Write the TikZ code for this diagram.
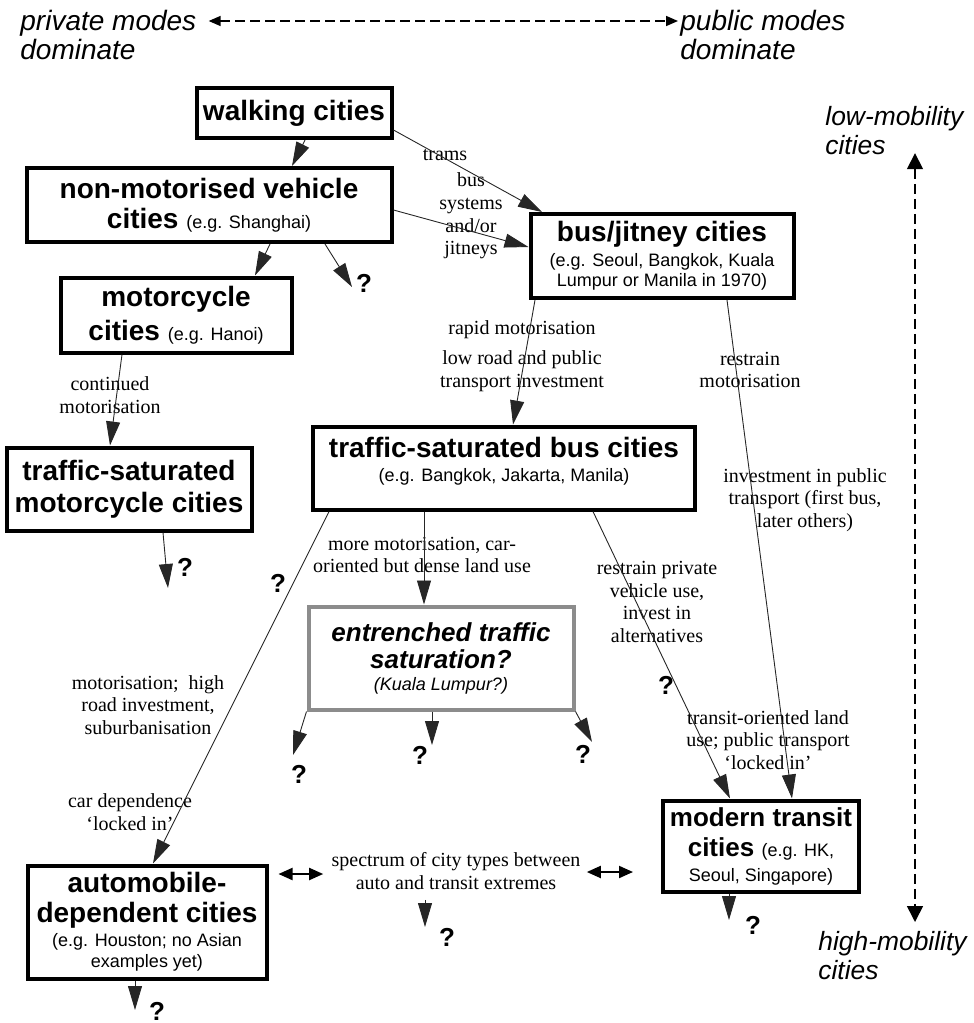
\documentclass[tikz,border=0pt]{standalone}
\usepackage{fontspec}
\setmainfont{Liberation Serif}
\setsansfont{Liberation Sans}
\usepackage{tikz}
\usetikzlibrary{calc}
\usetikzlibrary{arrows.meta}
\newcommand{\eg}[1]{{\mdseries\fontsize{9}{10}\selectfont #1}}
\tikzset{
    citybox/.style={draw, line width=2pt, align=center, inner sep=2pt, font=\sffamily\bfseries\fontsize{14}{15}\selectfont},
    hazybox/.style={citybox, draw=black!45, font=\sffamily\bfseries\itshape\fontsize{13}{15}\selectfont},
    pathtext/.style={align=center, inner sep=0pt, font=\fontsize{10}{11.4}\selectfont},
    qmark/.style={inner sep=0pt, font=\sffamily\bfseries\fontsize{13}{13}\selectfont},
    corner/.style={anchor=north west, inner sep=0pt, align=left, font=\sffamily\itshape\fontsize{14}{14.5}\selectfont},
    flow/.style={-{Triangle[length=12pt, width=7pt]}, line width=0.45pt, draw=black!85},
    twoway/.style={{Triangle[length=7pt, width=6pt]}-{Triangle[length=7pt, width=6pt]}, line width=1pt},
    axis/.style={dash pattern=on 5pt off 2.5pt, line width=0.8pt}
}

\begin{document}
\begin{tikzpicture}[x=0.5pt, y=-0.5pt]
    \useasboundingbox (0,0) rectangle (974,1023);

    % corner texts and the two axes
    \node[corner] (privmodes) at (20,10) {private modes\\dominate};
    \node[corner] (pubmodes) at (680,10) {public modes\\dominate};
    \node[corner, font=\sffamily\itshape\fontsize{13.2}{14.5}\selectfont] (lowmob) at (825,106) {low-mobility\\cities};
    \node[corner, font=\sffamily\itshape\fontsize{13.2}{14.5}\selectfont] (highmob) at (818,931) {high-mobility\\cities};

    \draw[axis, {Triangle[length=6pt, width=5pt]}-{Triangle[length=6pt, width=5pt]}]
        ($(privmodes.north east)+(12,11)$) -- ($(pubmodes.north west)+(-2,11)$);
    \draw[axis, {Triangle[length=8pt, width=8pt]}-{Triangle[length=8pt, width=8pt]}]
        ($(lowmob.south west)+(90,-2)$) -- ($(highmob.north west)+(97,-9)$);

    % city types
    \node[citybox, minimum width=97.5pt, minimum height=25pt] (walking) at (294,113) {walking cities};
    \node[citybox, minimum width=182.5pt, minimum height=37pt] (nonmotor) at (209,205) {non-motorised vehicle\\cities \eg{(e.g. Shanghai)}};
    \node[citybox, minimum width=115.5pt, minimum height=37.5pt] (motorcycle) at (176,315) {motorcycle\\[2pt]cities \eg{(e.g. Hanoi)}};
    \node[citybox, minimum width=122.5pt, minimum height=41.5pt] (satmotor) at (129,489) {traffic-saturated\\[1pt]motorcycle cities};
    \node[citybox, minimum width=131.5pt, minimum height=42pt] (busjitney) at (662,256) {bus/jitney cities\\[-2.5pt]\eg{(e.g. Seoul, Bangkok, Kuala}\\[-5pt]\eg{Lumpur or Manila in 1970)}};
    \node[citybox, minimum width=191pt, minimum height=41.5pt] (satbus) at (504,468) {traffic-saturated bus cities\\[-3pt]\eg{(e.g. Bangkok, Jakarta, Manila)}\\[-6pt]\mbox{}};
    \node[hazybox, minimum width=132.5pt, minimum height=51.5pt] (entrenched) at (441,658) {entrenched traffic\\[-1.5pt]saturation?\\[-4pt]\eg{(Kuala Lumpur?)}};
    \node[citybox, minimum width=119.5pt, minimum height=56.5pt] (automobile) at (147,922) {automobile-\\dependent cities\\[-3pt]\eg{(e.g. Houston; no Asian}\\[-4.5pt]\eg{examples yet)}};
    \node[citybox, font=\sffamily\bfseries\fontsize{13}{15}\selectfont, minimum width=98pt, minimum height=45.5pt] (transit) at (761,846) {modern transit\\cities \eg{(e.g. HK,}\\[-2.5pt]\eg{Seoul, Singapore)}};

    % texts along the paths
    \node[pathtext] (trams) at (445,155) {trams};
    \node[pathtext] (bussys) at (471,216) {bus\\systems\\and/or\\jitneys};
    \node[pathtext] (contmot) at (110,395) {continued\\motorisation};
    \node[pathtext] (rapid) at (522,330) {rapid motorisation};
    \node[pathtext] (lowinv) at (522,371) {low road and public\\transport investment};
    \node[pathtext] (restrain) at (750,370) {restrain\\motorisation};
    \node[pathtext] (invest) at (805,500) {investment in public\\transport (first bus,\\later others)};
    \node[pathtext] (moremot) at (422,555) {more motorisation, car-\\oriented but dense land use};
    \node[pathtext] (restrpriv) at (657,602) {restrain private\\vehicle use,\\invest in\\alternatives};
    \node[pathtext] (todland) at (768,740) {transit-oriented land\\use; public transport\\‘locked in’};
    \node[pathtext] (highroad) at (148,705) {motorisation;\ \ high\\road investment,\\suburbanisation};
    \node[pathtext] (carlock) at (130,812) {car dependence\\‘locked in’};
    \node[pathtext] (spectrum) at (456,871) {spectrum of city types between\\auto and transit extremes};

    % open questions
    \node[qmark] (q-nonmotor) at (364,283) {?};
    \node[qmark] (q-satmotor) at (185,567) {?};
    \node[qmark] (q-auto-path) at (278,583) {?};
    \node[qmark] (q-entr-left) at (299,774) {?};
    \node[qmark] (q-entr-mid) at (420,755) {?};
    \node[qmark] (q-entr-right) at (583,754) {?};
    \node[qmark] (q-transit-path) at (666,685) {?};
    \node[qmark] (q-spectrum) at (447,937) {?};
    \node[qmark] (q-transit) at (753,925) {?};
    \node[qmark] (q-auto) at (157,1011) {?};

    \coordinate (nonmotor-end) at (352,287);
    \coordinate (satmotor-end) at (168,588);
    \coordinate (entr-left-end) at (293,755);
    \coordinate (entr-mid-end) at (432,745);
    \coordinate (entr-right-end) at (592,742);
    \coordinate (spectrum-end) at (425,927);
    \coordinate (transit-end) at (729,920);
    \coordinate (auto-end) at (135,1010);

    % transitions
    \draw[flow] ($(walking.south)+(11,0)$) -- ($(nonmotor.north)+(83,0)$);
    \draw[flow] ($(walking.east)+(0,17)$) -- ($(busjitney.north)+(-120,0)$);
    \draw[flow] ($(nonmotor.east)+(0,5)$) -- ($(busjitney.west)+(0,-9)$);
    \draw[flow] ($(nonmotor.south)+(61,0)$) -- ($(motorcycle.north)+(79,0)$);
    \draw[flow] ($(nonmotor.south)+(116,0)$) -- (nonmotor-end);
    \draw[flow] ($(motorcycle.south)+(-54,0)$) -- ($(satmotor.north)+(-19,0)$);
    \draw[flow] ($(satmotor.south)+(34,0)$) -- (satmotor-end);
    \draw[flow] ($(busjitney.south)+(-127,0)$) -- ($(satbus.north)+(9,0)$);
    \draw[flow] ($(busjitney.south)+(65,0)$) -- ($(transit.north)+(31,0)$);
    \draw[flow] ($(satbus.south)+(89,0)$) -- ($(transit.north)+(-31,0)$);
    \draw[flow] ($(satbus.south)+(-80,0)$) -- ($(entrenched.north)+(-17,0)$);
    \draw[flow] ($(satbus.south)+(-175,0)$) -- ($(automobile.north)+(6,0)$);
    \draw[flow] (entrenched.south west) -- (entr-left-end);
    \draw[flow] ($(entrenched.south)+(-9,0)$) -- (entr-mid-end);
    \draw[flow] (entrenched.south east) -- (entr-right-end);
    \draw[flow] ($(spectrum.south)+(-31,10)$) -- (spectrum-end);
    \draw[flow] ($(transit.south)+(-32,0)$) -- (transit-end);
    \draw[flow] ($(automobile.south)+(-12,0)$) -- (auto-end);

    \draw[twoway] ($(automobile.east)+(10,-48)$) -- ($(spectrum.west)+(-8,3)$);
    \draw[twoway] ($(spectrum.east)+(6,1)$) -- ($(transit.west)+(-28,26)$);
\end{tikzpicture}
\end{document}
